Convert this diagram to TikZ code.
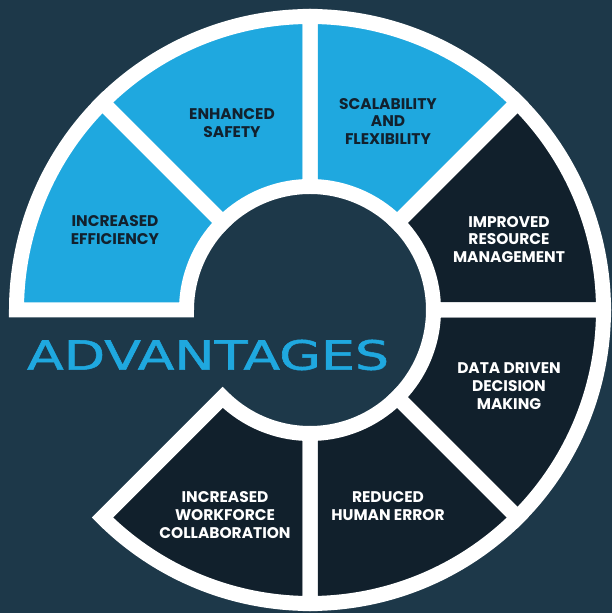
\documentclass[tikz,border=0pt]{standalone}
\usepackage{fontspec}
\usepackage{graphicx}
\newfontfamily\segfont{Poppins}
\newfontfamily\titlefont[FakeBold=1.2]{DejaVu Sans}
\definecolor{cbg}{HTML}{1D3849}
\definecolor{cblue}{HTML}{1FA8DF}
\definecolor{cdark}{HTML}{11202C}
\definecolor{ctext}{HTML}{12212E}

\begin{document}
\begin{tikzpicture}[x=1bp, y=1bp,
    border/.style={draw=white, line width=15bp, line join=miter},
    lbl/.style={font=\segfont\bfseries\fontsize{15.5}{18}\selectfont, align=center, inner sep=0pt},
    lbllight/.style={lbl, text=ctext},
    lbldark/.style={lbl, text=white},
]

% Background
\fill[cbg] (-310,-303) rectangle (302,310);
\useasboundingbox (-310,-303) rectangle (302,310);

% Ring segments: start angle / end angle / colour
\foreach \a/\b/\c in {135/180/cblue, 90/135/cblue, 45/90/cblue,
                      0/45/cdark, -45/0/cdark, -90/-45/cdark, -135/-90/cdark}
  \fill[\c] (\a:123.5) -- (\a:293.5) arc[start angle=\a, end angle=\b, radius=293.5]
            -- (\b:123.5) arc[start angle=\b, end angle=\a, radius=123.5] -- cycle;

% White borders on top
\foreach \a/\b in {135/180, 90/135, 45/90, 0/45, -45/0, -90/-45, -135/-90}
  \draw[border] (\a:123.5) -- (\a:293.5) arc[start angle=\a, end angle=\b, radius=293.5]
            -- (\b:123.5) arc[start angle=\b, end angle=\a, radius=123.5] -- cycle;

% Labels
\node[lbllight] (efficiency)  at (-195, 79.5) {INCREASED\\EFFICIENCY};
\node[lbllight] (safety)      at (-78, 187)   {ENHANCED\\SAFETY};
\node[lbllight] (scalability) at (78, 188.5)  {SCALABILITY\\AND\\FLEXIBILITY};
\node[lbldark]  (resource)    at (199, 70.5)  {IMPROVED\\RESOURCE\\MANAGEMENT};
\node[lbldark]  (datadriven)  at (199, -76.5) {DATA DRIVEN\\DECISION\\MAKING};
\node[lbldark]  (humanerror)  at (78, -196)   {REDUCED\\HUMAN ERROR};
\node[lbldark]  (workforce)   at (-85, -205)  {INCREASED\\WORKFORCE\\COLLABORATION};

% Title
\node[font=\titlefont, text=cblue, inner sep=0pt] (title) at (-102, -45)
  {\resizebox{362bp}{30bp}{ADVANTAGES}};

\end{tikzpicture}
\end{document}
